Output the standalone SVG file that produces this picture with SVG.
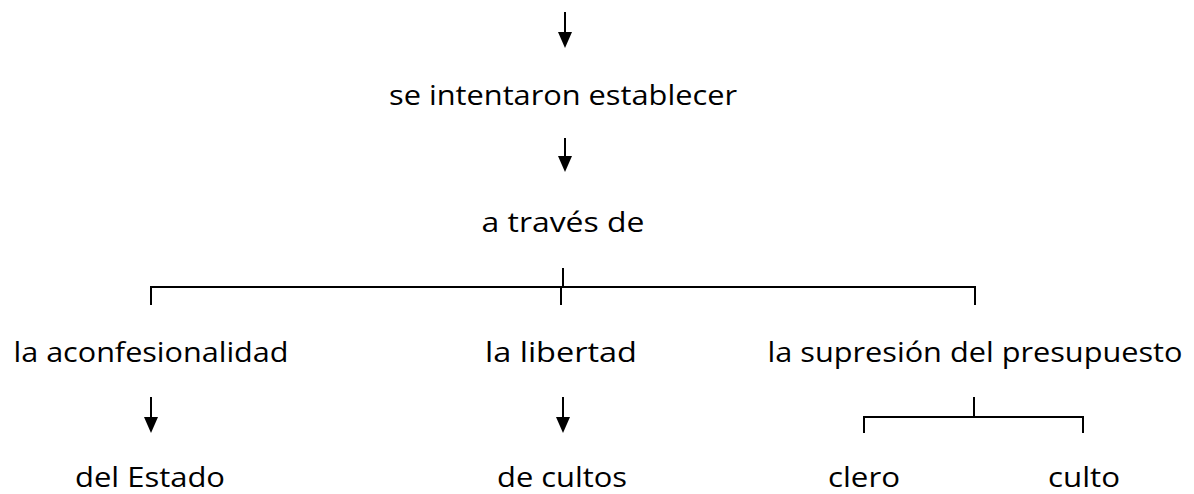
<svg xmlns="http://www.w3.org/2000/svg" width="1194" height="494" viewBox="0 0 1194 494">
<style>
text{font-family:"Comic Sans MS","Open Sans","DejaVu Sans",sans-serif;font-size:28px;fill:#000;text-anchor:middle}
.ln{stroke:#000;stroke-width:2;fill:none}
.ar{stroke:#000;stroke-width:2;fill:none;marker-end:url(#ah)}
</style>
<defs>
<marker id="ah" viewBox="0 0 16 14" refX="0" refY="7" markerWidth="16" markerHeight="14" markerUnits="userSpaceOnUse" orient="auto">
<path d="M0,0 L16,7 L0,14 Z" fill="#000"/>
</marker>
</defs>
<rect width="1194" height="494" fill="#fff"/>
<g id="connectors">
<line class="ar" x1="565" y1="12" x2="565" y2="32"/>
<line class="ar" x1="565" y1="138" x2="565" y2="156"/>
<path class="ln" d="M563,268 V287 M151,305 V287 H975 V305 M561,287 V305"/>
<line class="ar" x1="151" y1="397" x2="151" y2="417"/>
<line class="ar" x1="563" y1="397" x2="563" y2="417"/>
<path class="ln" d="M974,397 V417 M864,433 V417 H1083 V433"/>
</g>
<g id="n1"><text x="563" y="105" textLength="348" lengthAdjust="spacingAndGlyphs">se intentaron establecer</text></g>
<g id="n2"><text x="563" y="232" textLength="163" lengthAdjust="spacingAndGlyphs">a través de</text></g>
<g id="n3"><text x="151" y="362" textLength="275" lengthAdjust="spacingAndGlyphs">la aconfesionalidad</text></g>
<g id="n4"><text x="561" y="362" textLength="152" lengthAdjust="spacingAndGlyphs">la libertad</text></g>
<g id="n5"><text x="975" y="362" textLength="415" lengthAdjust="spacingAndGlyphs">la supresión del presupuesto</text></g>
<g id="n6"><text x="150" y="487" textLength="150" lengthAdjust="spacingAndGlyphs">del Estado</text></g>
<g id="n7"><text x="562" y="487" textLength="130" lengthAdjust="spacingAndGlyphs">de cultos</text></g>
<g id="n8"><text x="864" y="487" textLength="72" lengthAdjust="spacingAndGlyphs">clero</text></g>
<g id="n9"><text x="1084" y="487" textLength="72" lengthAdjust="spacingAndGlyphs">culto</text></g>
</svg>
